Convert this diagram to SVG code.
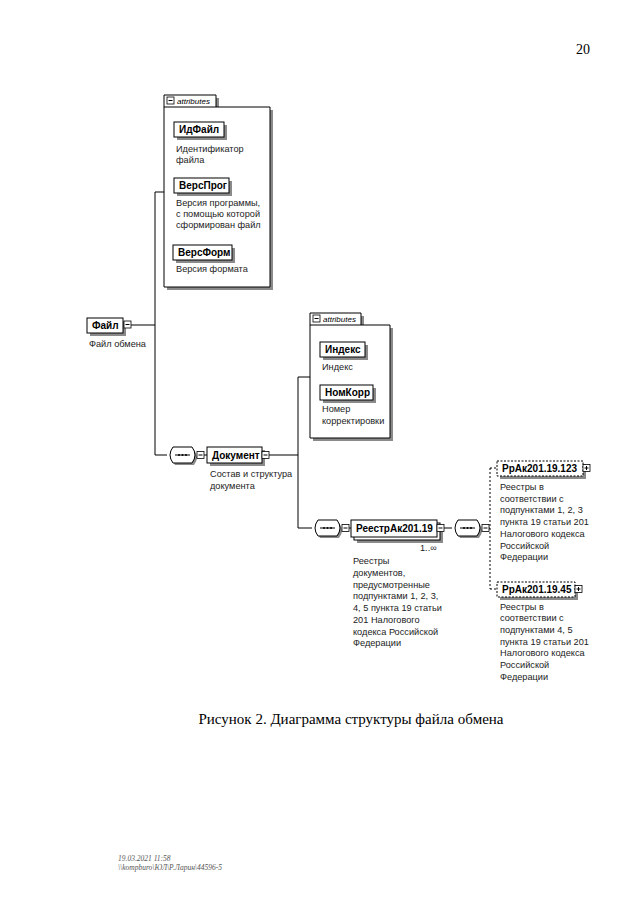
<svg xmlns="http://www.w3.org/2000/svg" width="640" height="905" viewBox="0 0 640 905">
<style>
.box{fill:#fff;stroke:#000;stroke-width:1}
.dbox{fill:#fff;stroke:#000;stroke-width:1;stroke-dasharray:2,1.5}
.sh{fill:#8a8a8a}
.ln{stroke:#000;stroke-width:1;fill:none}
.dl{stroke:#000;stroke-width:1;fill:none;stroke-dasharray:2,2}
.lbl{font-family:"Liberation Sans",Arial,sans-serif;font-size:10px;font-weight:bold;fill:#000}
.desc{font-family:"Liberation Sans",Arial,sans-serif;font-size:9.2px;fill:#222}
.tab{font-family:"Liberation Sans",Arial,sans-serif;font-size:8px;font-style:italic;fill:#000}
.ic{fill:#fff;stroke:#000;stroke-width:0.8}
</style>
<defs>
<g id="minus"><rect class="ic" x="0" y="0" width="7" height="7"/><line class="ln" x1="1.5" y1="3.5" x2="5.5" y2="3.5"/></g>
<g id="plus"><rect class="ic" x="0" y="0" width="7" height="7"/><line class="ln" x1="1.5" y1="3.5" x2="5.5" y2="3.5"/><line class="ln" x1="3.5" y1="1.5" x2="3.5" y2="5.5"/></g>
<g id="seq">
<path d="M8,3 H27 Q33,10.5 27,18 H8 Q2,10.5 8,3 Z" class="sh"/>
<path d="M6,0 H25 Q31,8 25,16 H6 Q0,8 6,0 Z" class="box"/>
<line x1="8" y1="8" x2="23" y2="8" stroke="#000" stroke-width="1"/>
<circle cx="12" cy="8" r="1" fill="#000"/><circle cx="15.5" cy="8" r="1" fill="#000"/><circle cx="19" cy="8" r="1" fill="#000"/>
</g>
</defs>

<text x="576" y="54" font-family="Liberation Serif,serif" font-size="14">20</text>

<g id="connectors">
<path class="ln" d="M131,325 H155 M155,192 V455 M155,192 H164 M155,455 H167"/>
<path class="ln" d="M204,455 H207 M269,455 H298 M298,377 V528 M298,377 H310 M298,528 H312"/>
<path class="ln" d="M349,528 H351 M444,528 H452"/>
<path class="dl" d="M489,528 H490 M490,468 V589 M490,468 H497 M490,589 H497"/>
</g>

<g id="attrs1">
<path d="M167,110 V98 H219 V110 H273 V290 H167 Z" class="sh"/>
<path d="M164,107 V95 H216 V107 H270 V287 H164 Z" class="box"/>
<line class="ln" x1="164" y1="107" x2="216" y2="107"/>
<use href="#minus" x="167" y="97"/>
<text class="tab" x="177" y="104">attributes</text>
</g>

<g id="idfile">
<rect class="sh" x="177" y="125" width="50" height="15"/>
<rect class="box" x="174" y="122" width="50" height="15"/>
<text class="lbl" x="179" y="133">ИдФайл</text>
<text class="desc" x="176" y="152">Идентификатор</text>
<text class="desc" x="176" y="163">файла</text>
</g>

<g id="versprog">
<rect class="sh" x="177" y="181" width="55" height="15"/>
<rect class="box" x="174" y="178" width="55" height="15"/>
<text class="lbl" x="179" y="189">ВерсПрог</text>
<text class="desc" x="176" y="206">Версия программы,</text>
<text class="desc" x="176" y="217">с помощью которой</text>
<text class="desc" x="176" y="228">сформирован файл</text>
</g>

<g id="versform">
<rect class="sh" x="176" y="248" width="59" height="15"/>
<rect class="box" x="173" y="245" width="59" height="15"/>
<text class="lbl" x="178" y="256">ВерсФорм</text>
<text class="desc" x="176" y="272">Версия формата</text>
</g>

<g id="file">
<rect class="sh" x="90" y="321" width="36" height="15"/>
<rect class="box" x="87" y="318" width="36" height="15"/>
<text class="lbl" x="92" y="329">Файл</text>
<use href="#minus" x="124" y="321"/>
<text class="desc" x="89" y="347">Файл обмена</text>
</g>

<g id="attrs2">
<path d="M313,328 V316 H364 V328 H393 V441 H313 Z" class="sh"/>
<path d="M310,325 V313 H361 V325 H390 V438 H310 Z" class="box"/>
<line class="ln" x1="310" y1="325" x2="361" y2="325"/>
<use href="#minus" x="313" y="315"/>
<text class="tab" x="323" y="322">attributes</text>
</g>

<g id="index">
<rect class="sh" x="323" y="345" width="45" height="15"/>
<rect class="box" x="320" y="342" width="45" height="15"/>
<text class="lbl" x="325" y="353">Индекс</text>
<text class="desc" x="322" y="370">Индекс</text>
</g>

<g id="nomkorr">
<rect class="sh" x="323" y="388" width="53" height="15"/>
<rect class="box" x="320" y="385" width="53" height="15"/>
<text class="lbl" x="325" y="396">НомКорр</text>
<text class="desc" x="322" y="412">Номер</text>
<text class="desc" x="322" y="424">корректировки</text>
</g>

<g id="seq1">
<use href="#seq" x="167" y="447"/>
<use href="#minus" x="197" y="451.5"/>
</g>

<g id="document">
<rect class="sh" x="210" y="450" width="55" height="16"/>
<rect class="box" x="207" y="447" width="55" height="16"/>
<text class="lbl" x="212" y="459">Документ</text>
<use href="#minus" x="262" y="451.5"/>
<text class="desc" x="210" y="477">Состав и структура</text>
<text class="desc" x="210" y="489">документа</text>
</g>

<g id="seq2">
<use href="#seq" x="312" y="520"/>
<use href="#minus" x="342" y="524.5"/>
</g>

<g id="reestr">
<rect class="sh" x="357" y="526" width="86" height="17"/>
<rect class="box" x="354" y="523" width="86" height="17"/>
<rect class="box" x="351" y="520" width="86" height="17"/>
<text class="lbl" x="356" y="532">РеестрАк201.19</text>
<use href="#minus" x="437" y="524.5"/>
<text class="desc" x="420" y="551" font-size="8">1..∞</text>
<text class="desc" x="353" y="564">Реестры</text>
<text class="desc" x="353" y="576">документов,</text>
<text class="desc" x="353" y="588">предусмотренные</text>
<text class="desc" x="353" y="599">подпунктами 1, 2, 3,</text>
<text class="desc" x="353" y="611">4, 5 пункта 19 статьи</text>
<text class="desc" x="353" y="623">201 Налогового</text>
<text class="desc" x="353" y="635">кодекса Российской</text>
<text class="desc" x="353" y="646">Федерации</text>
</g>

<g id="seq3">
<use href="#seq" x="452" y="520"/>
<use href="#minus" x="482" y="524.5"/>
</g>

<g id="rrak123">
<rect class="sh" x="500" y="464" width="86" height="15"/>
<rect class="dbox" x="497" y="461" width="86" height="15"/>
<text class="lbl" x="502" y="472">РрАк201.19.123</text>
<use href="#plus" x="583" y="464.5"/>
<text class="desc" x="500" y="490">Реестры в</text>
<text class="desc" x="500" y="502">соответствии с</text>
<text class="desc" x="500" y="513">подпунктами 1, 2, 3</text>
<text class="desc" x="500" y="525">пункта 19 статьи 201</text>
<text class="desc" x="500" y="537">Налогового кодекса</text>
<text class="desc" x="500" y="549">Российской</text>
<text class="desc" x="500" y="560">Федерации</text>
</g>

<g id="rrak45">
<rect class="sh" x="500" y="585" width="78" height="15"/>
<rect class="dbox" x="497" y="582" width="78" height="15"/>
<text class="lbl" x="502" y="593">РрАк201.19.45</text>
<use href="#plus" x="575" y="585.5"/>
<text class="desc" x="500" y="610">Реестры в</text>
<text class="desc" x="500" y="621">соответствии с</text>
<text class="desc" x="500" y="633">подпунктами 4, 5</text>
<text class="desc" x="500" y="645">пункта 19 статьи 201</text>
<text class="desc" x="500" y="656">Налогового кодекса</text>
<text class="desc" x="500" y="668">Российской</text>
<text class="desc" x="500" y="680">Федерации</text>
</g>

<text x="351" y="724" text-anchor="middle" font-family="Liberation Serif,serif" font-size="15">Рисунок 2. Диаграмма структуры файла обмена</text>

<text x="118" y="861" font-family="Liberation Serif,serif" font-size="7.5" font-style="italic" fill="#555">19.03.2021 11:58</text>
<text x="118" y="870" font-family="Liberation Serif,serif" font-size="7.5" font-style="italic" fill="#555">\\kompburo\ЮЛ\Р.Ларин\44596-5</text>
</svg>
